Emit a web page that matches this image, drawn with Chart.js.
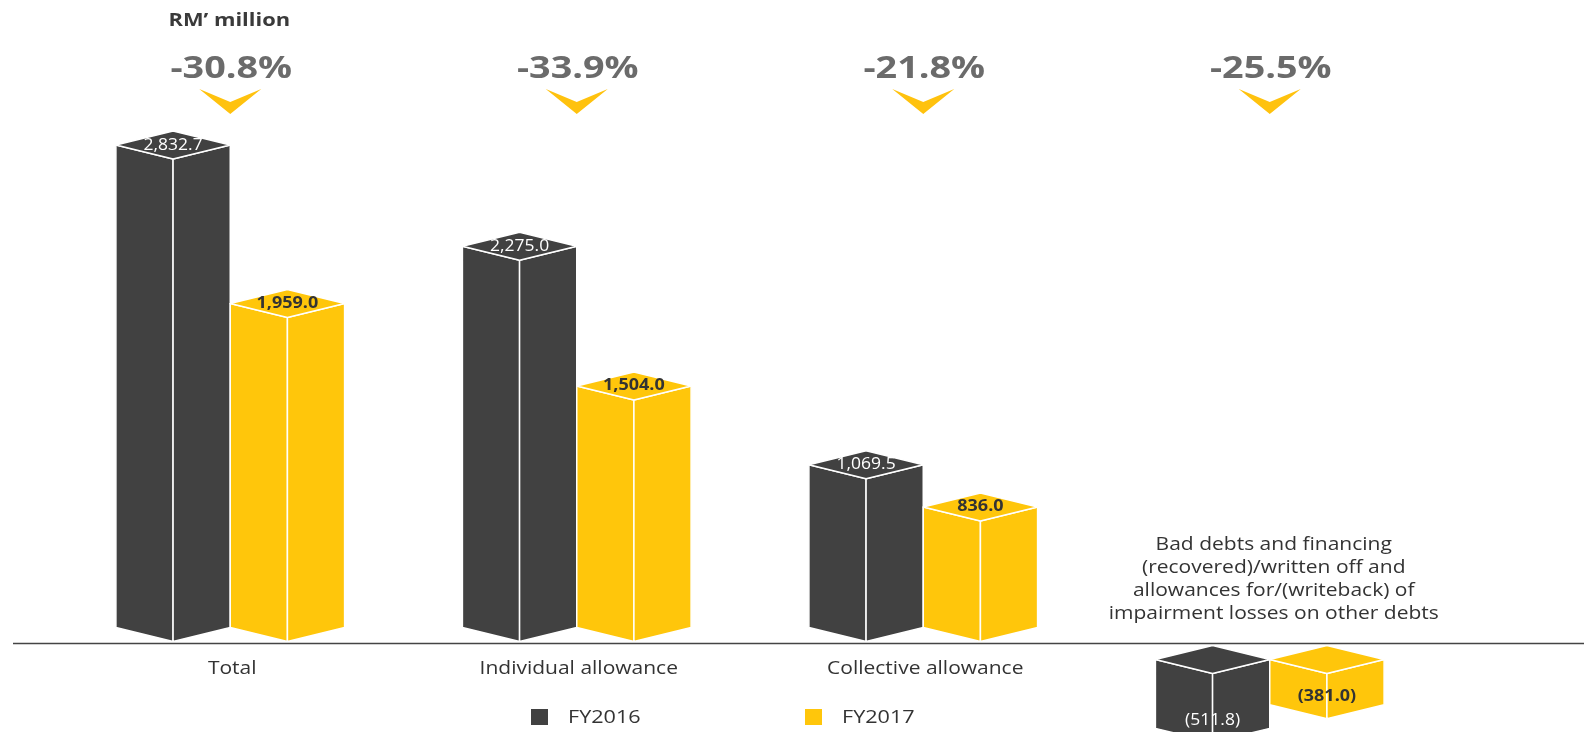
<!DOCTYPE html>
<html lang="en">
<head>
  <meta charset="UTF-8">
  <title>Allowance for impairment</title>
  <script src="https://cdn.jsdelivr.net/npm/chart.js@4/dist/chart.umd.min.js"></script>
  <style>
    body {
      margin: 0;
      background-color: #ffffff;
    }
    #wrap {
      width: 1586px;
      height: 732px;
      position: relative;
    }
  </style>
</head>
<body>
  <div id="wrap"><canvas id="chart"></canvas></div>

  <script>
    const categories = ['Total', 'Individual allowance', 'Collective allowance',
      ['Bad debts and financing', '(recovered)/written off and', 'allowances for/(writeback) of', 'impairment losses on other debts']];
    const fy2016 = [2832.7, 2275.0, 1069.5, -511.8];
    const fy2017 = [1959.0, 1504.0, 836.0, -381.0];
    const changes = ['-30.8%', '-33.9%', '-21.8%', '-25.5%'];
    const seriesNames = ['FY2016', 'FY2017'];
    const seriesColors = ['#414141', '#ffc60b'];
    const unitLabel = 'RM\u2019 million';

    const FONT = '"Open Sans", "Noto Sans", sans-serif';
    const DEPTH = 14;

    // text with a little horizontal stretch, the original is drawn wide
    const drawText = (ctx, text, x, y, font, color, sx, align) => {
      ctx.save();
      ctx.font = font;
      ctx.fillStyle = color;
      ctx.textAlign = align || 'center';
      ctx.textBaseline = 'middle';
      ctx.translate(x, y);
      ctx.scale(sx, 1);
      ctx.fillText(text, 0, 0);
      ctx.restore();
    };

    const fmt = (v) => {
      const s = Math.abs(v).toLocaleString('en-US', { minimumFractionDigits: 1, maximumFractionDigits: 1 });
      return v < 0 ? '(' + s + ')' : s;
    };

    const drawPrism = (ctx, cx, half, topY, botY, color) => {
      const l = cx - half, r = cx + half;
      ctx.save();
      ctx.fillStyle = color;
      ctx.strokeStyle = '#ffffff';
      ctx.lineWidth = 1.5;
      ctx.lineJoin = 'round';
      // left face
      ctx.beginPath();
      ctx.moveTo(l, topY);
      ctx.lineTo(cx, topY + DEPTH);
      ctx.lineTo(cx, botY + DEPTH);
      ctx.lineTo(l, botY);
      ctx.closePath();
      ctx.fill();
      ctx.stroke();
      // right face
      ctx.beginPath();
      ctx.moveTo(cx, topY + DEPTH);
      ctx.lineTo(r, topY);
      ctx.lineTo(r, botY);
      ctx.lineTo(cx, botY + DEPTH);
      ctx.closePath();
      ctx.fill();
      ctx.stroke();
      // top
      ctx.beginPath();
      ctx.moveTo(l, topY);
      ctx.lineTo(cx, topY - DEPTH);
      ctx.lineTo(r, topY);
      ctx.lineTo(cx, topY + DEPTH);
      ctx.closePath();
      ctx.fill();
      ctx.stroke();
      ctx.restore();
    };

    const prismBars = {
      id: 'prismBars',
      beforeDatasetsDraw(chart) {
        const ctx = chart.ctx;
        chart.data.datasets.forEach((ds, di) => {
          const meta = chart.getDatasetMeta(di);
          meta.data.forEach((bar, i) => {
            const v = ds.data[i];
            const half = bar.width / 2;
            let topY, botY, labelY;
            if (v >= 0) {
              topY = bar.y;
              botY = bar.base - 31;
              labelY = bar.y;
            } else {
              topY = bar.base + 1;
              botY = bar.y - 23;
              labelY = bar.y - 31;
            }
            drawPrism(ctx, bar.x, half, topY, botY, ds.backgroundColor);
            if (di === 0) {
              drawText(ctx, fmt(v), bar.x, labelY, '16.5px ' + FONT, '#ffffff', 1.06);
            } else {
              drawText(ctx, fmt(v), bar.x, labelY, 'bold 15.5px ' + FONT, '#333333', 1.16);
            }
          });
        });
        return false;
      },
      afterDraw(chart) {
        const ctx = chart.ctx;
        const xs = chart.scales.x;

        // base line
        ctx.save();
        ctx.strokeStyle = '#444444';
        ctx.lineWidth = 1.5;
        ctx.beginPath();
        ctx.moveTo(13, 643.5);
        ctx.lineTo(1584, 643.5);
        ctx.stroke();
        ctx.restore();

        drawText(ctx, unitLabel, xs.getPixelForValue(0) - 1, 21, 'bold 17.5px ' + FONT, '#3a3a3a', 1.25);

        categories.forEach((cat, i) => {
          const cx = xs.getPixelForValue(i);
          // change and chevron
          drawText(ctx, changes[i], cx + 1, 70, 'bold 29.5px ' + FONT, '#6b6b6b', 1.28);
          ctx.save();
          ctx.fillStyle = '#ffc20e';
          ctx.beginPath();
          ctx.moveTo(cx - 31, 89);
          ctx.lineTo(cx, 102);
          ctx.lineTo(cx + 31, 89);
          ctx.lineTo(cx, 114);
          ctx.closePath();
          ctx.fill();
          ctx.restore();

          if (Array.isArray(cat)) {
            cat.forEach((line, k) => {
              drawText(ctx, line, cx + 4, 545 + k * 23, '17.5px ' + FONT, '#333333', 1.2);
            });
          } else {
            drawText(ctx, cat, cx + 2, 669, '17.5px ' + FONT, '#333333', 1.2);
          }
        });

        // legend
        const legendX = [531, 805];
        seriesNames.forEach((name, i) => {
          ctx.fillStyle = seriesColors[i];
          ctx.fillRect(legendX[i], 709, 17, 16);
          drawText(ctx, name, legendX[i] + 37, 717.5, '18px ' + FONT, '#333333', 1.2, 'left');
        });
      }
    };

    new Chart(document.getElementById('chart'), {
      type: 'bar',
      data: {
        labels: categories,
        datasets: [
          { label: seriesNames[0], data: fy2016, backgroundColor: seriesColors[0] },
          { label: seriesNames[1], data: fy2017, backgroundColor: seriesColors[1] }
        ]
      },
      options: {
        responsive: true,
        maintainAspectRatio: false,
        animation: false,
        events: [],
        layout: { padding: { left: 57, right: 143, top: 0, bottom: 0 } },
        datasets: {
          bar: { categoryPercentage: 0.66, barPercentage: 1.0 }
        },
        plugins: {
          legend: { display: false },
          tooltip: { enabled: false }
        },
        scales: {
          x: { display: false },
          y: { display: false, min: -405, max: 3633 }
        }
      },
      plugins: [prismBars]
    });
  </script>
</body>
</html>
